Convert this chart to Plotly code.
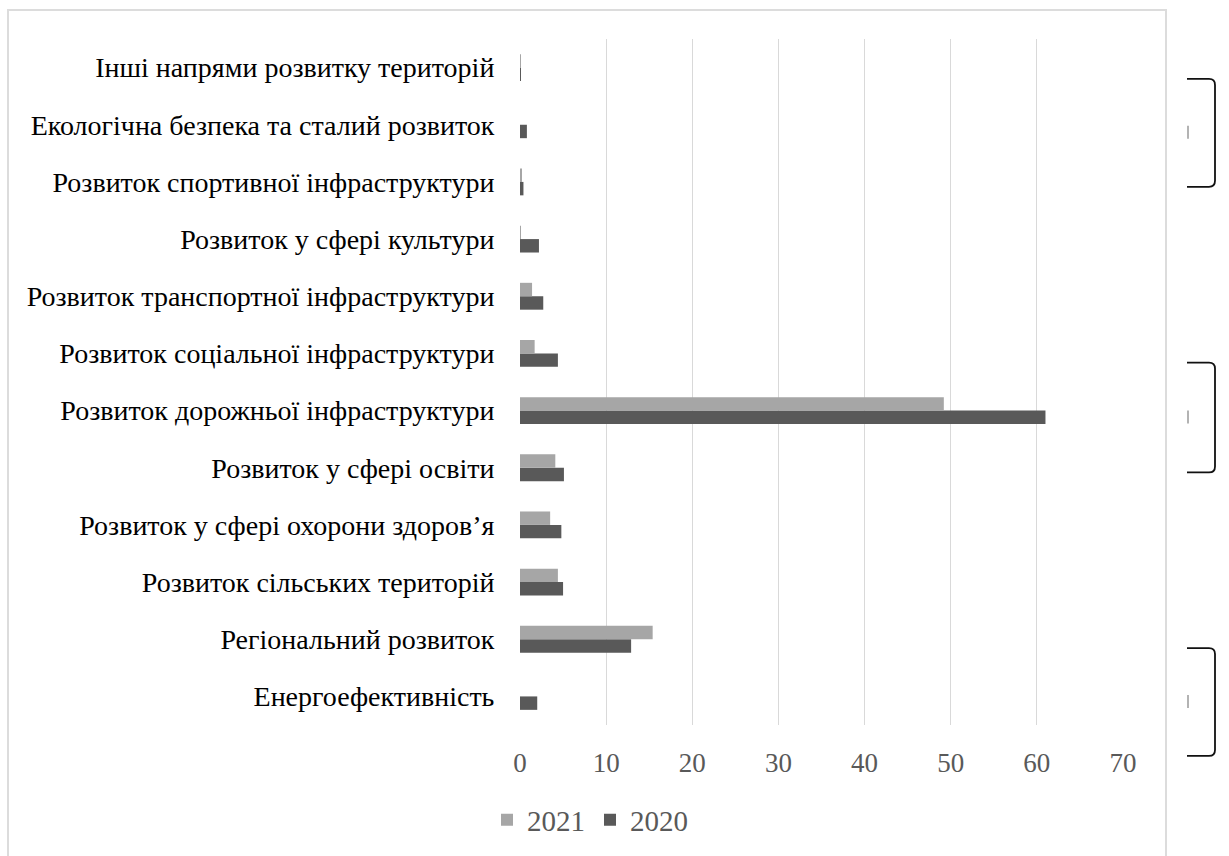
import plotly.graph_objects as go

# Напрями використання коштів (млрд грн), знизу вгору
categories = [
    "Енергоефективність",
    "Регіональний розвиток",
    "Розвиток сільських територій",
    "Розвиток у сфері охорони здоров’я",
    "Розвиток у сфері освіти",
    "Розвиток дорожньої інфраструктури",
    "Розвиток соціальної інфраструктури",
    "Розвиток транспортної інфраструктури",
    "Розвиток у сфері культури",
    "Розвиток спортивної інфраструктури",
    "Екологічна безпека та сталий розвиток",
    "Інші напрями розвитку територій",
]
values_2020 = [2.0, 12.9, 5.0, 4.8, 5.1, 61.0, 4.4, 2.7, 2.2, 0.4, 0.8, 0.05]
values_2021 = [0.0, 15.4, 4.4, 3.5, 4.1, 49.2, 1.7, 1.4, 0.1, 0.2, 0.0, 0.1]
x_ticks = [0, 10, 20, 30, 40, 50, 60, 70]

SERIF = "Liberation Serif"

W, H = 1229, 856
ML, MR, MT, MB = 520, 106, 39, 130
PW, PH = W - ML - MR, H - MT - MB


def px(x):
    return (x - ML) / PW


def py(y):
    return (H - MB - y) / PH


fig = go.Figure()
fig.add_trace(go.Bar(
    y=categories, x=values_2020, name="2020", orientation="h",
    marker=dict(color="#595959", line=dict(width=0)),
))
fig.add_trace(go.Bar(
    y=categories, x=values_2021, name="2021", orientation="h",
    marker=dict(color="#a6a6a6", line=dict(width=0)),
))

shapes = []
# рамка області діаграми
shapes.append(dict(type="rect", xref="paper", yref="paper",
                   x0=px(8), x1=px(1166), y0=py(10), y1=py(900),
                   line=dict(color="#dcdcdc", width=2), layer="below"))

# квадратні дужки праворуч
for top, bot in [(79, 187), (363, 473), (649, 757)]:
    xl, xr, r = 1187, 1215, 6
    path = (f"M {px(xl)},{py(top)} L {px(xr - r)},{py(top)} "
            f"Q {px(xr)},{py(top)} {px(xr)},{py(top + r)} "
            f"L {px(xr)},{py(bot - r)} "
            f"Q {px(xr)},{py(bot)} {px(xr - r)},{py(bot)} "
            f"L {px(xl)},{py(bot)}")
    shapes.append(dict(type="path", xref="paper", yref="paper", path=path,
                       line=dict(color="#111111", width=1.8)))
    mid = (top + bot) / 2
    shapes.append(dict(type="line", xref="paper", yref="paper",
                       x0=px(1188), x1=px(1188), y0=py(mid - 7), y1=py(mid + 6),
                       line=dict(color="#9a9a9a", width=1.5)))

fig.update_layout(
    width=W, height=H,
    margin=dict(l=ML, r=MR, t=MT, b=MB, pad=0),
    paper_bgcolor="white", plot_bgcolor="white",
    barmode="group", bargap=0.53, bargroupgap=0,
    font=dict(family=SERIF, color="#000000"),
    showlegend=True,
    legend=dict(orientation="h", traceorder="reversed",
                x=px(590), xanchor="center", y=py(820), yanchor="middle",
                font=dict(size=29, color="#595959", family=SERIF),
                itemwidth=30, bgcolor="rgba(0,0,0,0)"),
    xaxis=dict(range=[0, 70], tickvals=x_ticks, showgrid=True,
               gridcolor="#d9d9d9", gridwidth=1, zeroline=False,
               showline=False, ticks="outside", ticklen=14,
               tickcolor="rgba(0,0,0,0)",
               tickfont=dict(size=27, color="#595959", family=SERIF)),
    yaxis=dict(categoryorder="array", categoryarray=categories,
               showgrid=False, zeroline=False, showline=False,
               ticks="outside", ticklen=19, tickcolor="rgba(0,0,0,0)",
               tickfont=dict(size=28, color="#000000", family=SERIF)),
    shapes=shapes,
)

fig.write_html("out.html")
